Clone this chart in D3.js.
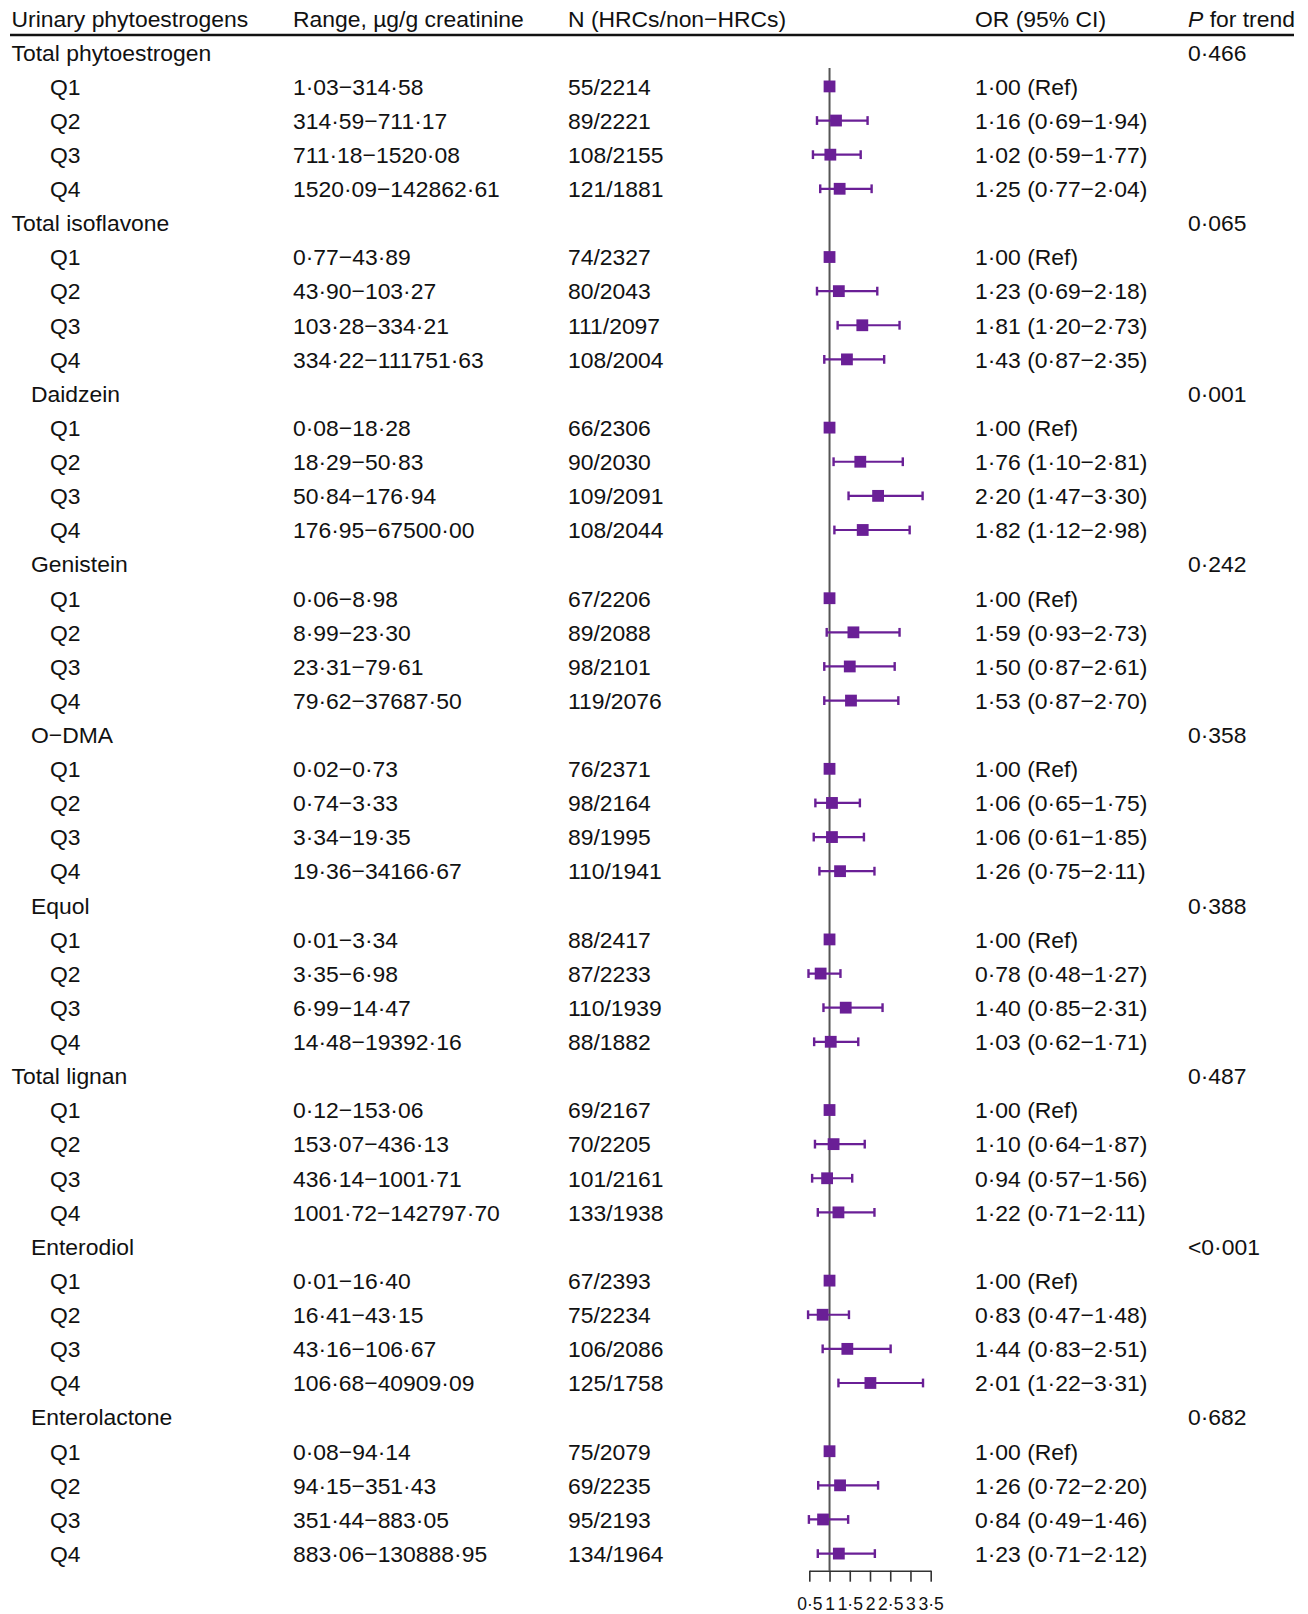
<!DOCTYPE html>
<html>
<head>
<meta charset="utf-8">
<script src="https://cdn.jsdelivr.net/npm/d3@7"></script>
<style>
  html, body { margin: 0; padding: 0; background: #fff; }
  svg { display: block; }
  text { font-family: "Liberation Sans", Arial, Helvetica, sans-serif; fill: #111; }
</style>
</head>
<body>
<svg id="chart" width="1308" height="1614"></svg>
<script>
// ---------------- DATA ----------------
const groupNames = ["Total phytoestrogen", "Total isoflavone", "Daidzein", "Genistein", "O\u2212DMA", "Equol", "Total lignan", "Enterodiol", "Enterolactone"];
const groupLevels = [0, 0, 1, 1, 1, 1, 0, 1, 1];
const pTrend = ["0·466", "0·065", "0·001", "0·242", "0·358", "0·388", "0·487", "<0·001", "0·682"];
const quartiles = ["Q1", "Q2", "Q3", "Q4"];

const ranges = [
  ["1·03−314·58", "314·59−711·17", "711·18−1520·08", "1520·09−142862·61"],
  ["0·77−43·89", "43·90−103·27", "103·28−334·21", "334·22−111751·63"],
  ["0·08−18·28", "18·29−50·83", "50·84−176·94", "176·95−67500·00"],
  ["0·06−8·98", "8·99−23·30", "23·31−79·61", "79·62−37687·50"],
  ["0·02−0·73", "0·74−3·33", "3·34−19·35", "19·36−34166·67"],
  ["0·01−3·34", "3·35−6·98", "6·99−14·47", "14·48−19392·16"],
  ["0·12−153·06", "153·07−436·13", "436·14−1001·71", "1001·72−142797·70"],
  ["0·01−16·40", "16·41−43·15", "43·16−106·67", "106·68−40909·09"],
  ["0·08−94·14", "94·15−351·43", "351·44−883·05", "883·06−130888·95"]
];
const counts = [
  ["55/2214", "89/2221", "108/2155", "121/1881"],
  ["74/2327", "80/2043", "111/2097", "108/2004"],
  ["66/2306", "90/2030", "109/2091", "108/2044"],
  ["67/2206", "89/2088", "98/2101", "119/2076"],
  ["76/2371", "98/2164", "89/1995", "110/1941"],
  ["88/2417", "87/2233", "110/1939", "88/1882"],
  ["69/2167", "70/2205", "101/2161", "133/1938"],
  ["67/2393", "75/2234", "106/2086", "125/1758"],
  ["75/2079", "69/2235", "95/2193", "134/1964"]
];
const orValues = [
  [1.00, 1.16, 1.02, 1.25],
  [1.00, 1.23, 1.81, 1.43],
  [1.00, 1.76, 2.20, 1.82],
  [1.00, 1.59, 1.50, 1.53],
  [1.00, 1.06, 1.06, 1.26],
  [1.00, 0.78, 1.40, 1.03],
  [1.00, 1.10, 0.94, 1.22],
  [1.00, 0.83, 1.44, 2.01],
  [1.00, 1.26, 0.84, 1.23]
];
const ciLower = [
  [1.00, 0.69, 0.59, 0.77],
  [1.00, 0.69, 1.20, 0.87],
  [1.00, 1.10, 1.47, 1.12],
  [1.00, 0.93, 0.87, 0.87],
  [1.00, 0.65, 0.61, 0.75],
  [1.00, 0.48, 0.85, 0.62],
  [1.00, 0.64, 0.57, 0.71],
  [1.00, 0.47, 0.83, 1.22],
  [1.00, 0.72, 0.49, 0.71]
];
const ciUpper = [
  [1.00, 1.94, 1.77, 2.04],
  [1.00, 2.18, 2.73, 2.35],
  [1.00, 2.81, 3.30, 2.98],
  [1.00, 2.73, 2.61, 2.70],
  [1.00, 1.75, 1.85, 2.11],
  [1.00, 1.27, 2.31, 1.71],
  [1.00, 1.87, 1.56, 2.11],
  [1.00, 1.48, 2.51, 3.31],
  [1.00, 2.20, 1.46, 2.12]
];
const axisTicks = [0.5, 1, 1.5, 2, 2.5, 3, 3.5];
const headers = ["Urinary phytoestrogens", "Range, µg/g creatinine", "N (HRCs/non\u2212HRCs)", "OR (95% CI)"];

// ---------------- BUILD ROWS ----------------
const fmt = v => d3.format(".2f")(v).replace(".", "·");
const rows = [];
groupNames.forEach((g, gi) => {
  rows.push({type: "group", name: g, level: groupLevels[gi], p: pTrend[gi]});
  quartiles.forEach((q, qi) => {
    const ref = qi === 0;
    rows.push({
      type: "q", name: q, range: ranges[gi][qi], n: counts[gi][qi],
      or: orValues[gi][qi], lo: ciLower[gi][qi], hi: ciUpper[gi][qi], ref,
      label: ref ? fmt(orValues[gi][qi]) + " (Ref)"
                 : `${fmt(orValues[gi][qi])} (${fmt(ciLower[gi][qi])}\u2212${fmt(ciUpper[gi][qi])})`
    });
  });
});

// ---------------- LAYOUT ----------------
const svg = d3.select("#chart");
const FS = 22.9;
const colX = {name0: 11.5, name1: 31, q: 50, range: 293, n: 568, or: 975, p: 1188};
const y = d3.scaleLinear().domain([0, rows.length - 1]).range([60.6, 60.6 + (rows.length - 1) * 34.12]);
const x = d3.scaleLinear().domain([0.5, 3.5]).range([809.3, 930.7]);
const purple = "#6a1f96";
const axisY = 1570.7;

// Header
const hdr = svg.append("g");
const hx = [colX.name0, colX.range, colX.n, colX.or];
headers.forEach((h, i) => {
  hdr.append("text").attr("x", hx[i]).attr("y", 26.5).attr("font-size", FS).text(h);
});
const pt = hdr.append("text").attr("x", colX.p).attr("y", 26.5).attr("font-size", FS);
pt.append("tspan").attr("font-style", "italic").text("P");
pt.append("tspan").text(" for trend");
hdr.append("line").attr("x1", 10).attr("x2", 1294).attr("y1", 35).attr("y2", 35)
  .attr("stroke", "#111").attr("stroke-width", 2.6);

// Table text
const body = svg.append("g");
rows.forEach((r, i) => {
  const yy = y(i);
  if (r.type === "group") {
    body.append("text").attr("x", r.level ? colX.name1 : colX.name0).attr("y", yy).attr("font-size", FS).text(r.name);
    body.append("text").attr("x", colX.p).attr("y", yy).attr("font-size", FS).text(r.p);
  } else {
    body.append("text").attr("x", colX.q).attr("y", yy).attr("font-size", FS).text(r.name);
    body.append("text").attr("x", colX.range).attr("y", yy).attr("font-size", FS).text(r.range);
    body.append("text").attr("x", colX.n).attr("y", yy).attr("font-size", FS).text(r.n);
    body.append("text").attr("x", colX.or).attr("y", yy).attr("font-size", FS).text(r.label);
  }
});

// Reference line at OR = 1
svg.append("line").attr("x1", x(1)).attr("x2", x(1)).attr("y1", 68).attr("y2", axisY)
  .attr("stroke", "#555").attr("stroke-width", 2);

// Forest marks
const qRows = rows.map((r, i) => ({...r, i})).filter(r => r.type === "q");
const marks = svg.append("g");
const cy = i => y(i) - 8.3;
const ci = qRows.filter(r => !r.ref);
marks.selectAll("line.ci").data(ci).join("line").attr("class", "ci")
  .attr("x1", d => x(d.lo)).attr("x2", d => x(d.hi))
  .attr("y1", d => cy(d.i)).attr("y2", d => cy(d.i))
  .attr("stroke", purple).attr("stroke-width", 2.2);
marks.selectAll("line.capl").data(ci).join("line").attr("class", "capl")
  .attr("x1", d => x(d.lo)).attr("x2", d => x(d.lo))
  .attr("y1", d => cy(d.i) - 4.4).attr("y2", d => cy(d.i) + 4.4)
  .attr("stroke", purple).attr("stroke-width", 2.4);
marks.selectAll("line.capr").data(ci).join("line").attr("class", "capr")
  .attr("x1", d => x(d.hi)).attr("x2", d => x(d.hi))
  .attr("y1", d => cy(d.i) - 4.4).attr("y2", d => cy(d.i) + 4.4)
  .attr("stroke", purple).attr("stroke-width", 2.4);
const S = 11.8;
marks.selectAll("rect").data(qRows).join("rect")
  .attr("x", d => x(d.or) - S / 2).attr("y", d => cy(d.i) - S / 2)
  .attr("width", S).attr("height", S).attr("fill", purple);

// Axis
const axis = d3.axisBottom(x).tickValues(axisTicks).tickSize(11).tickSizeOuter(0).tickPadding(16)
  .tickFormat(v => (Number.isInteger(v) ? String(v) : d3.format(".1f")(v).replace(".", "·")));
const ag = svg.append("g").attr("transform", `translate(0,${axisY})`).call(axis);
ag.select(".domain").attr("stroke", "#333").attr("stroke-width", 1.6);
ag.selectAll(".tick line").attr("stroke", "#333").attr("stroke-width", 1.6);
ag.selectAll(".tick text").attr("font-size", 17.5).attr("fill", "#111")
  .attr("font-family", "\"Liberation Sans\", Arial, sans-serif");
</script>
</body>
</html>
